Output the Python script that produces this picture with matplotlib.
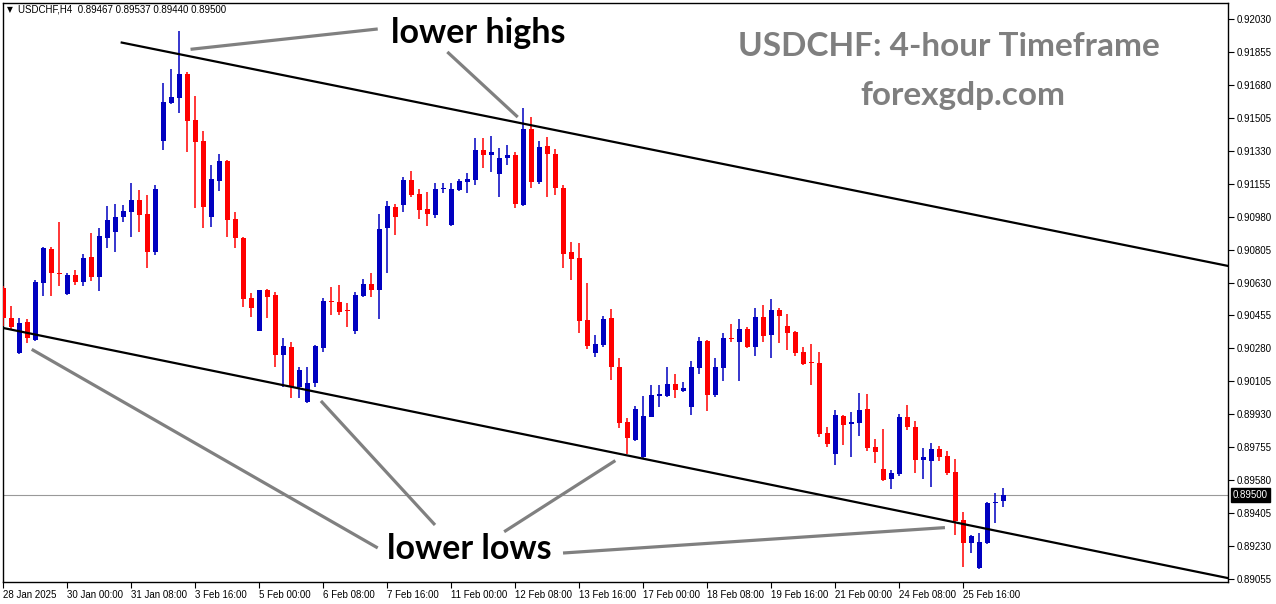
import numpy as np
import matplotlib.pyplot as plt
import matplotlib.transforms as mtransforms

# USDCHF H4 candles (bar 0 = 28 Jan 2025 16:00)
opens = [0.90601, 0.90442, 0.90256, 0.90420, 0.90325, 0.90628, 0.90808, 0.90681, 0.90569, 0.90670,
         0.90633, 0.90766, 0.90659, 0.90867, 0.90898, 0.90978, 0.91005, 0.91068, 0.90994, 0.90792,
         0.91382, 0.91584, 0.91610, 0.91738, 0.91493, 0.91382, 0.90978, 0.91169, 0.91276, 0.90968,
         0.90867, 0.90548, 0.90373, 0.90590, 0.90564, 0.90245, 0.90288, 0.90075, 0.89995, 0.90096,
         0.90282, 0.90532, 0.90527, 0.90484, 0.90373, 0.90558, 0.90622, 0.90590, 0.90920, 0.91031,
         0.91042, 0.91175, 0.91100, 0.91021, 0.90989, 0.91127, 0.90936, 0.91122, 0.91164, 0.91175,
         0.91334, 0.91310, 0.91207, 0.91292, 0.91308, 0.91042, 0.91446, 0.91164, 0.91355, 0.91313,
         0.91132, 0.90792, 0.90760, 0.90431, 0.90256, 0.90298, 0.90442, 0.90181, 0.89889, 0.89793,
         0.89703, 0.89916, 0.90027, 0.90027, 0.90091, 0.90054, 0.89969, 0.90176, 0.90319, 0.90033,
         0.90176, 0.90335, 0.90314, 0.90383, 0.90288, 0.90447, 0.90351, 0.90484, 0.90399, 0.90367,
         0.90261, 0.90208, 0.90203, 0.89831, 0.89719, 0.89921, 0.89878, 0.89884, 0.89958, 0.89755,
         0.89639, 0.89586, 0.89613, 0.89916, 0.89862, 0.89687, 0.89682, 0.89746, 0.89709, 0.89624,
         0.89368, 0.89246, 0.89113, 0.89246, 0.89459, 0.89467]
highs = [0.90612, 0.90505, 0.90442, 0.90436, 0.90644, 0.90819, 0.90819, 0.90952, 0.90681, 0.90697,
         0.90782, 0.90893, 0.90920, 0.91037, 0.91047, 0.91042, 0.91159, 0.91122, 0.91095, 0.91148,
         0.91690, 0.91764, 0.91966, 0.91749, 0.91621, 0.91435, 0.91254, 0.91313, 0.91281, 0.91005,
         0.90872, 0.90574, 0.90590, 0.90596, 0.90580, 0.90335, 0.90314, 0.90181, 0.90181, 0.90298,
         0.90548, 0.90606, 0.90617, 0.90521, 0.90580, 0.90649, 0.90681, 0.90994, 0.91063, 0.91047,
         0.91191, 0.91223, 0.91127, 0.91111, 0.91159, 0.91159, 0.91159, 0.91180, 0.91212, 0.91398,
         0.91398, 0.91409, 0.91345, 0.91361, 0.91323, 0.91557, 0.91509, 0.91382, 0.91403, 0.91339,
         0.91148, 0.90845, 0.90840, 0.90628, 0.90351, 0.90452, 0.90489, 0.90229, 0.89910, 0.89974,
         0.90027, 0.90086, 0.90086, 0.90181, 0.90144, 0.90102, 0.90213, 0.90341, 0.90325, 0.90229,
         0.90362, 0.90410, 0.90436, 0.90394, 0.90495, 0.90511, 0.90543, 0.90495, 0.90463, 0.90373,
         0.90288, 0.90303, 0.90261, 0.89862, 0.89953, 0.89926, 0.89942, 0.90043, 0.90038, 0.89799,
         0.89852, 0.89634, 0.89932, 0.89979, 0.89894, 0.89751, 0.89777, 0.89762, 0.89735, 0.89693,
         0.89411, 0.89289, 0.89299, 0.89464, 0.89512, 0.89537]
lows = [0.90399, 0.90383, 0.90250, 0.90309, 0.90319, 0.90558, 0.90558, 0.90612, 0.90565, 0.90617,
        0.90612, 0.90638, 0.90585, 0.90813, 0.90792, 0.90952, 0.90872, 0.90898, 0.90707, 0.90776,
        0.91334, 0.91578, 0.91531, 0.91323, 0.91026, 0.90920, 0.90925, 0.91116, 0.90872, 0.90813,
        0.90500, 0.90447, 0.90370, 0.90442, 0.90181, 0.90075, 0.90017, 0.90017, 0.89990, 0.90075,
        0.90261, 0.90458, 0.90458, 0.90394, 0.90357, 0.90553, 0.90553, 0.90436, 0.90681, 0.90883,
        0.91005, 0.91084, 0.90968, 0.90930, 0.90973, 0.91106, 0.90930, 0.91116, 0.91106, 0.91148,
        0.91239, 0.91217, 0.91084, 0.91254, 0.91026, 0.91037, 0.91132, 0.91153, 0.91084, 0.91095,
        0.90707, 0.90644, 0.90362, 0.90277, 0.90234, 0.90288, 0.90112, 0.89857, 0.89719, 0.89787,
        0.89700, 0.89914, 0.89969, 0.90022, 0.90017, 0.90048, 0.89926, 0.90144, 0.89948, 0.90022,
        0.90107, 0.90314, 0.90107, 0.90282, 0.90240, 0.90314, 0.90229, 0.90309, 0.90272, 0.90240,
        0.90192, 0.90086, 0.89809, 0.89755, 0.89661, 0.89767, 0.89703, 0.89815, 0.89735, 0.89671,
        0.89576, 0.89533, 0.89602, 0.89847, 0.89618, 0.89586, 0.89544, 0.89682, 0.89608, 0.89289,
        0.89119, 0.89193, 0.89108, 0.89241, 0.89353, 0.89440]
closes = [0.90442, 0.90394, 0.90415, 0.90335, 0.90633, 0.90813, 0.90681, 0.90675, 0.90670, 0.90633,
          0.90760, 0.90659, 0.90877, 0.90961, 0.90978, 0.91010, 0.91068, 0.90989, 0.90792, 0.91127,
          0.91589, 0.91616, 0.91738, 0.91488, 0.91377, 0.91031, 0.91180, 0.91276, 0.90961, 0.90867,
          0.90543, 0.90495, 0.90590, 0.90553, 0.90245, 0.90293, 0.90075, 0.90165, 0.90096, 0.90293,
          0.90532, 0.90527, 0.90473, 0.90479, 0.90564, 0.90622, 0.90590, 0.90914, 0.91037, 0.90978,
          0.91175, 0.91095, 0.91015, 0.90994, 0.91127, 0.91132, 0.91127, 0.91169, 0.91180, 0.91334,
          0.91308, 0.91321, 0.91292, 0.91308, 0.91047, 0.91446, 0.91164, 0.91350, 0.91313, 0.91132,
          0.90782, 0.90755, 0.90426, 0.90293, 0.90303, 0.90436, 0.90181, 0.89884, 0.89804, 0.89958,
          0.89921, 0.90033, 0.90038, 0.90091, 0.90059, 0.90070, 0.90181, 0.90319, 0.90033, 0.90181,
          0.90335, 0.90330, 0.90383, 0.90288, 0.90447, 0.90346, 0.90484, 0.90452, 0.90362, 0.90256,
          0.90197, 0.90203, 0.89825, 0.89772, 0.89926, 0.89873, 0.89889, 0.89953, 0.89751, 0.89730,
          0.89581, 0.89618, 0.89916, 0.89862, 0.89687, 0.89703, 0.89746, 0.89703, 0.89618, 0.89363,
          0.89246, 0.89283, 0.89252, 0.89459, 0.89464, 0.89500]

price_ticks = [0.92030, 0.91855, 0.91680, 0.91505, 0.91330, 0.91155, 0.90980, 0.90805, 0.90630,
               0.90455, 0.90280, 0.90105, 0.89930, 0.89755, 0.89580, 0.89405, 0.89230, 0.89055]
date_ticks = [0, 8, 16, 24, 32, 40, 48, 56, 64, 72, 80, 88, 96, 104, 112, 120]
date_labels = ['28 Jan 2025', '30 Jan 00:00', '31 Jan 08:00', '3 Feb 16:00', '5 Feb 00:00',
               '6 Feb 08:00', '7 Feb 16:00', '11 Feb 00:00', '12 Feb 08:00', '13 Feb 16:00',
               '17 Feb 00:00', '18 Feb 08:00', '19 Feb 16:00', '21 Feb 00:00', '24 Feb 08:00',
               '25 Feb 16:00']

# channel lines (two anchor points each: bar index, price)
upper_line = [(22, 0.91843), (65, 0.91474)]
lower_line = [(2, 0.90371), (80, 0.89694)]

BLUE = '#0000c0'
RED = '#ff0000'
GRAY = '#808080'
TICKFONT = 'Liberation Sans'

fig = plt.figure(figsize=(12.76, 6.04), dpi=100)
ax = fig.add_axes([3 / 1276, 1 - 582 / 604, 1225 / 1276, 579 / 604])
xmin, xmax = -0.04, 153.08
ax.set_xlim(xmin, xmax)
ax.set_ylim(0.89039, 0.92115)

# candles
o = np.array(opens); h = np.array(highs); l = np.array(lows); c = np.array(closes)
idx = np.arange(len(o))
cols = np.where(c >= o, BLUE, RED)
ax.vlines(idx, l, h, colors=cols, linewidth=1.1, zorder=3)
body = np.maximum(np.abs(c - o), 0.00006)
ax.bar(idx, body, bottom=np.minimum(o, c), width=0.6, color=cols, linewidth=0, zorder=4)

# current price line
ax.axhline(closes[-1], color='#999999', linewidth=0.8, zorder=1)
trans = mtransforms.blended_transform_factory(ax.transAxes, ax.transData)
ax.text(1.004, closes[-1], '%.5f' % closes[-1], transform=trans, fontsize=7, color='white',
        family=TICKFONT, va='center', ha='left', clip_on=False,
        bbox=dict(boxstyle='square,pad=0.22', fc='black', ec='black'))

# channel lines
def extend(p, x0, x1):
    (xa, ya), (xb, yb) = p
    s = (yb - ya) / (xb - xa)
    return [x0, x1], [ya + s * (x0 - xa), ya + s * (x1 - xa)]

xs, ys = extend(upper_line, 14.8, xmax + 1)
ax.plot(xs, ys, color='black', linewidth=1.6, zorder=5)
xs, ys = extend(lower_line, xmin - 1, xmax + 1)
ax.plot(xs, ys, color='black', linewidth=1.6, zorder=5)

# pointer lines
pointers = [((23.4, 0.91869), (46.8, 0.91977)),
            ((55.5, 0.91855), (64.3, 0.91509)),
            ((3.55, 0.90275), (46.8, 0.89220)),
            ((39.7, 0.90001), (53.96, 0.89342)),
            ((62.6, 0.89306), (76.5, 0.89684)),
            ((69.96, 0.89193), (117.7, 0.89328))]
for (x0, y0), (x1, y1) in pointers:
    ax.plot([x0, x1], [y0, y1], color=GRAY, linewidth=2.3, zorder=6, solid_capstyle='butt')

ax.text(59.4, 0.91956, 'lower highs', fontsize=24.5, fontweight='bold', family='Lato',
        ha='center', va='center', color='black', zorder=7)
ax.text(58.3, 0.89214, 'lower lows', fontsize=24.5, fontweight='bold', family='Lato',
        ha='center', va='center', color='black', zorder=7)

fig.text(949 / 1276, 1 - 47 / 604, 'USDCHF: 4-hour Timeframe', fontsize=24, fontweight='bold',
         family='Lato', color='#7f7f7f', ha='center', va='center')
fig.text(963 / 1276, 1 - 95 / 604, 'forexgdp.com', fontsize=24, fontweight='bold',
         family='Lato', color='#7f7f7f', ha='center', va='center')

fig.text(7 / 1276, 1 - 10 / 604, '\u25bc', fontsize=5.5, color='black', ha='left', va='center')
fig.text(18 / 1276, 1 - 10 / 604, 'USDCHF,H4  %.5f %.5f %.5f %.5f' % (opens[-1], highs[-1], lows[-1], closes[-1]),
         fontsize=7, family=TICKFONT, color='black', ha='left', va='center')

# axes styling
ax.yaxis.tick_right()
ax.set_yticks(price_ticks)
ax.set_yticklabels(['%.5f' % v for v in price_ticks], family=TICKFONT)
ax.set_xticks(date_ticks)
ax.set_xticklabels(date_labels, ha='left', family=TICKFONT)
ax.tick_params(axis='y', direction='out', length=4, width=0.8, labelsize=7, pad=2)
ax.tick_params(axis='x', direction='out', length=4, width=0.8, labelsize=7, pad=2)
for sp in ax.spines.values():
    sp.set_linewidth(1.0)
    sp.set_color('black')

fig.savefig('out.png', dpi=100, facecolor='white')
